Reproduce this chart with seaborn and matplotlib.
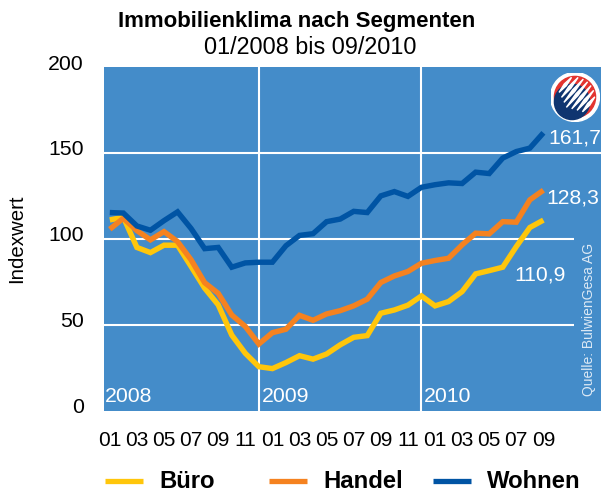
import numpy as np
import pandas as pd
import seaborn as sns
import matplotlib
matplotlib.use("Agg")
import matplotlib.pyplot as plt
from matplotlib.patches import Circle, Polygon

W, H = 601, 491
sns.set_theme(style="white")
plt.rcParams['font.family'] = ['Liberation Sans', 'DejaVu Sans']

month_labels = ["01","03","05","07","09","11","01","03","05","07","09","11","01","03","05","07","09"]
year_labels = ["2008", "2009", "2010"]
buero = [111,112.6,95,92,96.3,96.3,83.9,71.3,61.6,44,33.4,25.6,24.5,28,32,30,33,38.3,42.7,43.7,56.7,58.6,61.4,66.8,61,63.5,69.3,79.6,81.5,83.5,95.5,106.6,110.9]
handel = [105.6,112,104.8,99.4,104.2,98.4,87.8,74.5,68.3,55.7,49,38.8,45.4,47.4,55.5,52.6,56.3,58.2,61,64.9,74.6,78.4,81,85.8,87.4,88.7,96.5,103.3,102.9,110,109.7,122.7,128.3]
wohnen = [115.3,115,107.5,105,110.6,115.7,106,94.3,95,83.5,86,86.4,86.4,96,102,103,110,111.5,116,115.3,125,127.5,124.7,130,131.5,132.6,132.2,138.8,138,147,150.8,152.8,161.7]
names = ["Büro", "Handel", "Wohnen"]
colors = ["#FFC60B", "#F58220", "#0054A4"]
end_labels = ["110,9", "128,3", "161,7"]

df = pd.DataFrame({"Monat": np.arange(len(buero)), "Büro": buero, "Handel": handel, "Wohnen": wohnen})
long = df.melt("Monat", var_name="Segment", value_name="Indexwert")

BLUE = "#448CC9"
fig = plt.figure(figsize=(W/100, H/100), dpi=100, facecolor="white")
ax = fig.add_axes([104/W, 1-410.7/H, (W-104)/W, (410.7-67)/H])
ax.set_facecolor(BLUE)
for s in ax.spines.values():
    s.set_visible(False)

x0, step = 109.8, 13.55
ax.set_xlim((104-x0)/step, (W-x0)/step)
ax.set_ylim(0, 200)

# grid
ax.hlines(150, ax.get_xlim()[0], ax.get_xlim()[1], color="white", lw=1.5, zorder=1)
ax.hlines([100, 50], ax.get_xlim()[0], (574-x0)/step, color="white", lw=1.5, zorder=1)
ax.axvline(11, color="white", lw=1.5, zorder=1)
ax.axvline(23, color="white", lw=1.5, zorder=1)

sns.lineplot(data=long, x="Monat", y="Indexwert", hue="Segment", hue_order=names,
             palette=colors, lw=3.9, ax=ax, legend=False, zorder=3, solid_joinstyle="miter",
             solid_capstyle="butt", sort=False)

ax.set_xticks(np.arange(0, 33, 2), month_labels)
ax.set_yticks([0, 50, 100, 150, 200])
ax.tick_params(axis="x", length=0, pad=14.5, labelsize=15, colors="black")
ax.tick_params(axis="y", length=0, labelsize=15.3, colors="black", pad=14.5)
for t in ax.get_yticklabels():
    t.set_verticalalignment("center")
    t.set_transform(t.get_transform() + matplotlib.transforms.ScaledTranslation(0, 3/100, fig.dpi_scale_trans))
ax.set_xlabel("")
ax.set_ylabel("")
fig.text(17/W, 1-239/H, "Indexwert", rotation=90, ha="center", va="center", fontsize=14.7, color="black")

fig.text(297/W, 1-21/H, "Immobilienklima nach Segmenten", ha="center", va="center", fontsize=16, fontweight="bold", color="black")
fig.text(310/W, 1-47/H, "01/2008 bis 09/2010", ha="center", va="center", fontsize=16.8, color="black")

# year labels
for pos, lab in zip([(105, 397), (262, 397), (424, 397)], year_labels):
    fig.text(pos[0]/W, 1-pos[1]/H, lab, color="white", fontsize=15.3, ha="left", va="center")

# end value labels
for pos, lab in zip([(514, 275), (546, 198), (548, 138)], end_labels):
    fig.text(pos[0]/W, 1-pos[1]/H, lab, color="white", fontsize=15.2, ha="left", va="center")

fig.text(589/W, 1-319/H, "Quelle: BulwienGesa AG", color="#DCE9F5", fontsize=10, rotation=90, ha="center", va="center")

# legend, one block per series
for name, col, xp in zip(names, colors, [105, 269, 433]):
    h = plt.Line2D([], [], color=col, lw=3.8, solid_capstyle="butt")
    leg = fig.legend(handles=[h], labels=[name], loc="center left", bbox_to_anchor=(xp/W, 1-481/H),
                     frameon=False, handlelength=1.6, handletextpad=0.67,
                     borderaxespad=0, borderpad=0,
                     labelcolor="black", prop={"weight": "bold", "size": 17.2})
    lh = leg.legend_handles[0]
    lh.set_ydata(np.asarray(lh.get_ydata()) - 1.0)

# logo
la = fig.add_axes([(575-24.5)/W, 1-(97+24.5)/H, 49/W, 49/H])
la.set_xlim(-1, 1); la.set_ylim(-1, 1); la.axis("off"); la.patch.set_alpha(0)
la.add_patch(Circle((0, 0), 1, color="white"))
inner = Circle((0, 0), 0.84, color="#E3342F", zorder=2)
la.add_patch(inner)
body = Circle((-0.12, -0.20), 0.72, color="#0F3570", zorder=3)
la.add_patch(body)
d = np.array([0.64, 0.77])
n = np.array([0.77, -0.64])
for off in np.linspace(-0.62, 0.62, 7):
    start = off * n + d * (-0.10 - 0.45 * (1 - abs(off)))
    end = off * n + d * np.sqrt(max(0.82**2 - off**2, 0)) * 0.98
    mid = (start + end) / 2
    w = 0.055
    p = Polygon([start, mid + w*n, end, mid - w*n], color="white", zorder=4)
    la.add_patch(p)
    p.set_clip_path(inner)

fig.savefig("out.png", dpi=100, facecolor="white")
